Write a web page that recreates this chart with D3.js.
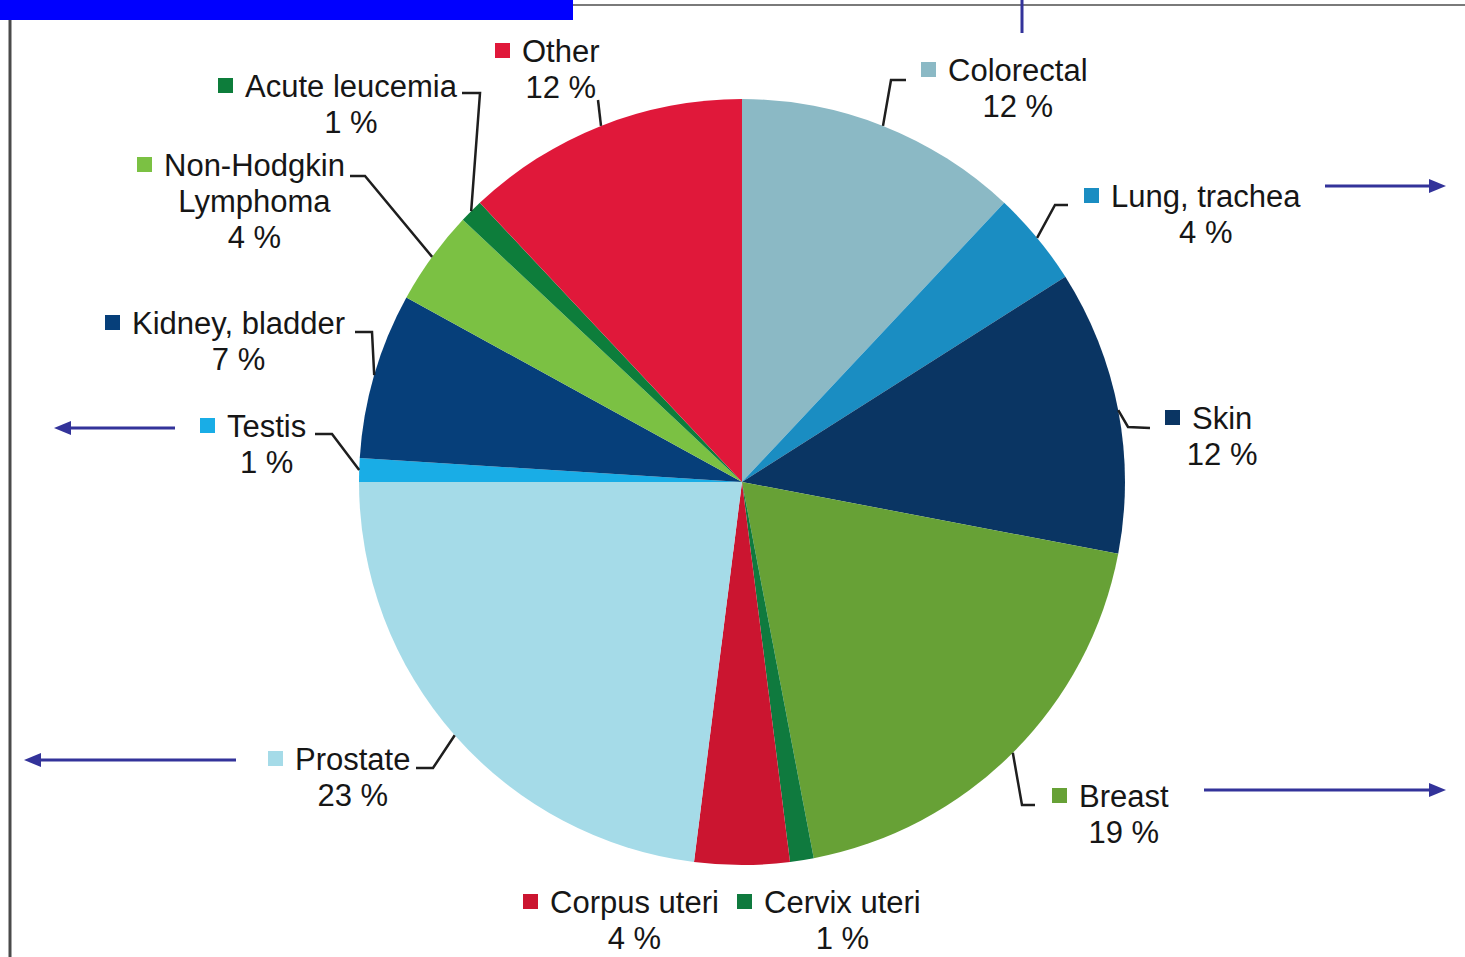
<!DOCTYPE html>
<html>
<head>
<meta charset="utf-8">
<script src="https://cdn.jsdelivr.net/npm/d3@7"></script>
<style>
  html, body { margin: 0; padding: 0; background: #fff; }
  svg { display: block; }
</style>
</head>
<body>
<svg id="chart" width="1465" height="957"></svg>
<script>
// Cancer sites, share of new cases (%), clockwise from 12 o'clock
const categories = ["Colorectal", "Lung, trachea", "Skin", "Breast", "Cervix uteri", "Corpus uteri",
                    "Prostate", "Testis", "Kidney, bladder", "Non-Hodgkin\nLymphoma", "Acute leucemia", "Other"];
const values = [12, 4, 12, 19, 1, 4, 23, 1, 7, 4, 1, 12];
const colors = ["#8bb9c5", "#1a8dc2", "#0a3563", "#67a136", "#0f7a3e", "#cb1530",
                "#a5dbe8", "#19ade6", "#063f7a", "#7bc143", "#0d7d3b", "#e0183a"];

// Label placement: square left x, first-line baseline y, leader path after the slice edge
const labelLayout = [
  { sx: 921,  by: 81,  leader: [[891, 80], [906, 80]] },
  { sx: 1084, by: 207, leader: [[1055, 205], [1068, 205]] },
  { sx: 1165, by: 429, leader: [[1128, 427], [1150, 428]] },
  { sx: 1052, by: 807, leader: [[1022, 805], [1035, 805]] },
  { sx: 737,  by: 913, leader: null },
  { sx: 523,  by: 913, leader: null },
  { sx: 268,  by: 770, leader: [[433, 768], [416, 768]] },
  { sx: 200,  by: 437, leader: [[332, 434], [315, 434]] },
  { sx: 105,  by: 334, leader: [[372, 332], [355, 332]] },
  { sx: 137,  by: 176, leader: [[365, 176], [350, 176]] },
  { sx: 218,  by: 97,  leader: [[480, 93], [462, 93]] },
  { sx: 495,  by: 62,  leader: [[598, 100]] }
];

const svg = d3.select("#chart");
const cx = 742, cy = 482, radius = 383;

// Frame decorations
svg.append("rect").attr("x", 0).attr("y", 0).attr("width", 573).attr("height", 20).attr("fill", "#0000ff");
svg.append("line").attr("x1", 573).attr("x2", 1465).attr("y1", 5).attr("y2", 5)
  .attr("stroke", "#7a7a7a").attr("stroke-width", 2);
svg.append("line").attr("x1", 10).attr("x2", 10).attr("y1", 20).attr("y2", 957)
  .attr("stroke", "#4a4a4a").attr("stroke-width", 3);

const arrowColor = "#33339a";

svg.append("line").attr("x1", 1022).attr("x2", 1022).attr("y1", 0).attr("y2", 33)
  .attr("stroke", arrowColor).attr("stroke-width", 3);

// Horizontal arrows: [fromX, y, toX]
const arrows = [
  [1325, 186, 1446],
  [175, 428, 54],
  [236, 760, 24],
  [1204, 790, 1446]
];
arrows.forEach(([x1, y, x2]) => {
  const dir = Math.sign(x2 - x1);
  const headLen = 17, headHalf = 7;
  svg.append("line")
    .attr("x1", x1).attr("y1", y).attr("x2", x2 - dir * headLen + dir).attr("y2", y)
    .attr("stroke", arrowColor).attr("stroke-width", 3);
  svg.append("path")
    .attr("d", `M${x2},${y} L${x2 - dir * headLen},${y - headHalf} L${x2 - dir * headLen},${y + headHalf} Z`)
    .attr("fill", arrowColor);
});

// Pie
const pie = d3.pie().sort(null).value(d => d)(values);
const arc = d3.arc().innerRadius(0).outerRadius(radius);
const g = svg.append("g").attr("transform", `translate(${cx},${cy})`);
g.selectAll("path").data(pie).join("path")
  .attr("d", arc)
  .attr("fill", (d, i) => colors[i]);

// Leader lines
const line = d3.line();
pie.forEach((d, i) => {
  const L = labelLayout[i];
  if (!L.leader) return;
  const mid = (d.startAngle + d.endAngle) / 2;
  const start = [cx + radius * Math.sin(mid), cy - radius * Math.cos(mid)];
  svg.append("path")
    .attr("d", line([start, ...L.leader]))
    .attr("fill", "none").attr("stroke", "#1e1e1e").attr("stroke-width", 2.5);
});

// Labels
const fontFamily = "'Liberation Sans', Arial, sans-serif";
const fontSize = 31;
const lineGap = 36;
categories.forEach((name, i) => {
  const L = labelLayout[i];
  const lines = name.split("\n");
  svg.append("rect")
    .attr("x", L.sx).attr("y", L.by - 19).attr("width", 15).attr("height", 15)
    .attr("fill", colors[i]);
  const first = svg.append("text")
    .attr("x", L.sx + 27).attr("y", L.by)
    .attr("font-family", fontFamily).attr("font-size", fontSize)
    .attr("fill", "#161616")
    .text(lines[0]);
  const w = first.node().getComputedTextLength();
  const center = L.sx + 27 + w / 2;
  const rest = lines.slice(1).concat([values[i] + " %"]);
  rest.forEach((t, k) => {
    svg.append("text")
      .attr("x", center).attr("y", L.by + lineGap * (k + 1))
      .attr("text-anchor", "middle")
      .attr("font-family", fontFamily).attr("font-size", fontSize)
      .attr("fill", "#161616")
      .text(t);
  });
});
</script>
</body>
</html>
